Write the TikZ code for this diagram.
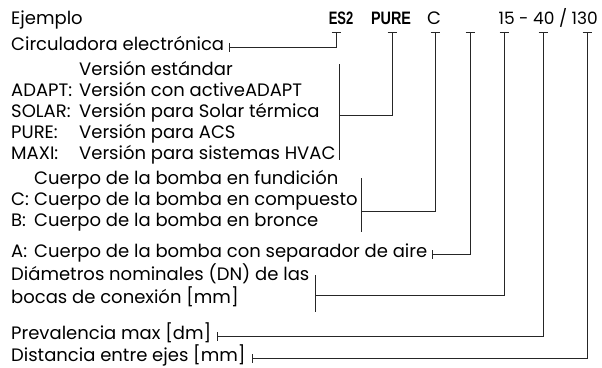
\documentclass[tikz,border=0pt]{standalone}
\usepackage{fontspec}
\setmainfont{Poppins}
\newfontfamily\boldfam{Liberation Sans}
\usetikzlibrary{arrows.meta,calc}
\newcommand\fsz{\fontsize{18}{21}\selectfont}
\newcommand\fszb{\fontsize{18}{21}\selectfont}
\begin{document}
\begin{tikzpicture}[x=1pt,y=-1pt,
  txt/.style={anchor=base west,inner sep=0pt,font=\fsz},
  bold/.style={anchor=base,inner sep=0pt,font=\boldfam\bfseries\fszb},
  conn/.style={line width=1pt,draw=black!85},
  topbar/.style={conn,{Bar[width=9pt,line width=1pt]}-},
  twobar/.style={conn,{Bar[width=9pt,line width=1pt]}-{Bar[width=9pt,line width=1pt]}},
  brk/.style={conn}]
\useasboundingbox (0,0) rectangle (602,367);
% top row
\node[txt] (ej) at (11,24) {Ejemplo};
\node[bold] (es2) at (341,24) {\scalebox{0.72}[1]{ES2}};
\node[bold] (pure) at (391,24) {\scalebox{0.8}[1]{PURE}};
\node[txt,anchor=base] (c) at (434,24) {C};
\node[txt,anchor=base east,font=\fontsize{17}{21}\selectfont] (num) at (598,24) {15 - 40 / 130};
% tick points
\coordinate (tES) at (336,32);
\coordinate (tPU) at (392,32);
\coordinate (tC) at (435,32);
\coordinate (tBL) at (470,32);
\coordinate (t15) at (504,32);
\coordinate (t40) at (543,32);
\coordinate (t130) at (587,32);
% left texts
\node[txt] (circ) at (11,50) {Circuladora electrónica};
\node[txt] (ver) at (11,75) {\begin{tabular}[t]{@{}l@{}}
  \makebox[68pt][l]{}Versión estándar\\
  \makebox[68pt][l]{ADAPT:}Versión con activeADAPT\\
  \makebox[68pt][l]{SOLAR:}Versión para Solar térmica\\
  \makebox[68pt][l]{PURE:}Versión para ACS\\
  \makebox[68pt][l]{MAXI:}Versión para sistemas HVAC
\end{tabular}};
\node[txt] (cue) at (11,184) {\begin{tabular}[t]{@{}l@{}}
  \makebox[23pt][l]{}Cuerpo de la bomba en fundición\\
  \makebox[23pt][l]{C:}Cuerpo de la bomba en compuesto\\
  \makebox[23pt][l]{B:}Cuerpo de la bomba en bronce
\end{tabular}};
\node[txt] (aire) at (11,257) {\makebox[23pt][l]{A:}Cuerpo de la bomba con separador de aire};
\node[txt] (dia) at (11,280) {\begin{tabular}[t]{@{}l@{}}
  Diámetros nominales (DN) de las\\
  bocas de conexión [mm]
\end{tabular}};
\node[txt] (prev) at (11,339) {Prevalencia max [dm]};
\node[txt] (dist) at (11,361) {Distancia entre ejes [mm]};
% brackets
\coordinate (vb) at ($(ver.east)+(4,0)$);
\coordinate (cb) at ($(cue.east)+(4,0)$);
\coordinate (db) at ($(dia.east)+(6,0)$);
\coordinate (y64) at (0,64); \coordinate (y160) at (0,160); \coordinate (y115) at (0,115);
\coordinate (y178) at (0,178); \coordinate (y232) at (0,232); \coordinate (y211) at (0,211);
\coordinate (y275) at (0,275); \coordinate (y312) at (0,312); \coordinate (y295) at (0,295);
\draw[brk] (vb |- y64) -- (vb |- y160);
\draw[brk] (cb |- y178) -- (cb |- y232);
\draw[brk] (db |- y275) -- (db |- y312);
% connectors
\draw[twobar] (tES) |- ($(circ.base east)+(5,-3)$);
\draw[topbar] (tPU) |- (vb |- y115);
\draw[topbar] (tC) |- (cb |- y211);
\draw[twobar] (tBL) |- ($(aire.base east)+(5,-3)$);
\draw[topbar] (t15) |- (db |- y295);
\draw[twobar] (t40) |- ($(prev.base east)+(6,-3)$);
\draw[twobar] (t130) |- ($(dist.base east)+(6,-3)$);
\end{tikzpicture}
\end{document}
